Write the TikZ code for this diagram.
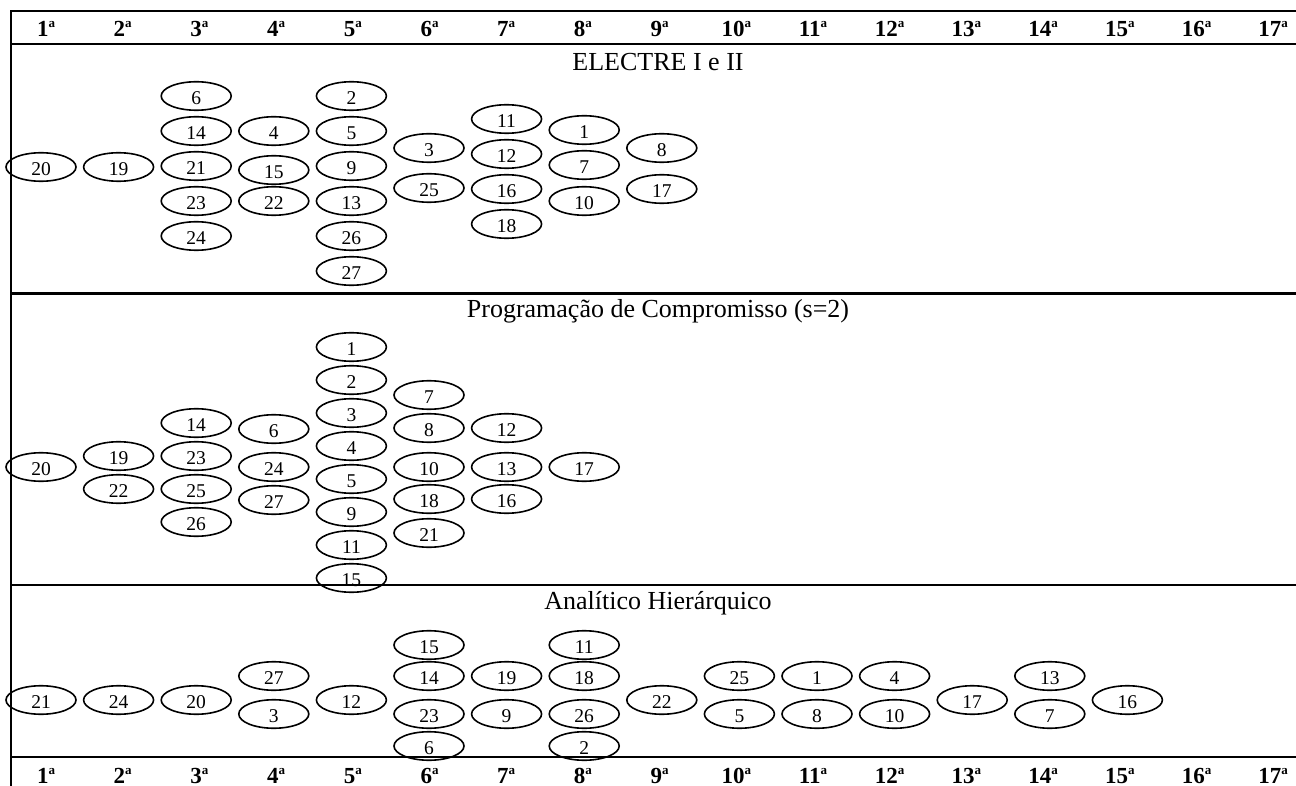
\documentclass[tikz,border=0pt]{standalone}
\usepackage{fontspec}
\setmainfont{Liberation Serif}
\usetikzlibrary{shapes.geometric}

\tikzset{
  rank/.style={ellipse, draw, line width=1.6pt, minimum width=70pt,
    minimum height=28.5pt, inner sep=0pt,
    font=\fontsize{19.5}{19.5}\selectfont, text height=17.5pt, text depth=0pt},
  rule/.style={line width=2.4pt},
  colhead/.style={anchor=base, inner sep=0pt,
    font=\fontsize{23}{23}\selectfont\bfseries},
  method/.style={anchor=base, inner sep=0pt, font=\fontsize{26}{26}\selectfont}
}

% ordinal position label: number with raised "a"
\newcommand\ordn[1]{#1\raisebox{9pt}{\fontsize{13}{13}\selectfont a}}
% one ranked alternative: name, rank column, vertical position, label
\newcommand\rk[4]{\node[rank] (#1) at ({41+77.6*(#2-1)},#3) {#4};}

\begin{document}
\begin{tikzpicture}[x=1pt,y=-1pt]
\useasboundingbox (0,0) rectangle (1296,786);

% table frame
\draw[rule] (1296,11) -- (11,11) -- (11,786);
\draw[rule] (11,44) -- (1296,44);
\draw[rule] (11,293.5) -- (1296,293.5);
\draw[rule] (11,585) -- (1296,585);
\draw[rule] (11,757) -- (1296,757);

% rank positions, top and bottom rows
\foreach \i in {1,...,17}{
  \node[colhead] (top\i) at ({46+76.7*(\i-1)},37) {\ordn{\i}};
  \node[colhead] (bot\i) at ({46+76.7*(\i-1)},783) {\ordn{\i}};
}

% ---------------- ELECTRE I e II ----------------
\node[method] (electre) at (658,70.5) {ELECTRE I e II};
\rk{e20}{1}{167}{20}
\rk{e19}{2}{167}{19}
\rk{e6}{3}{96}{6}
\rk{e14}{3}{131}{14}
\rk{e21}{3}{166}{21}
\rk{e23}{3}{201}{23}
\rk{e24}{3}{236}{24}
\rk{e4}{4}{131}{4}
\rk{e15}{4}{170}{15}
\rk{e22}{4}{201}{22}
\rk{e2}{5}{96}{2}
\rk{e5}{5}{131}{5}
\rk{e9}{5}{166}{9}
\rk{e13}{5}{201}{13}
\rk{e26}{5}{236}{26}
\rk{e27}{5}{271}{27}
\rk{e3}{6}{148}{3}
\rk{e25}{6}{188}{25}
\rk{e11}{7}{119}{11}
\rk{e12}{7}{154}{12}
\rk{e16}{7}{189}{16}
\rk{e18}{7}{224}{18}
\rk{e1}{8}{130}{1}
\rk{e7}{8}{165}{7}
\rk{e10}{8}{201}{10}
\rk{e8}{9}{148}{8}
\rk{e17}{9}{189}{17}

% ---------------- Programacao de Compromisso ----------------
\node[method] (compromisso) at (658,318) {Programação de Compromisso (s=2)};
\rk{p20}{1}{467}{20}
\rk{p19}{2}{456}{19}
\rk{p22}{2}{489}{22}
\rk{p14}{3}{423}{14}
\rk{p23}{3}{456}{23}
\rk{p25}{3}{489}{25}
\rk{p26}{3}{522}{26}
\rk{p6}{4}{429}{6}
\rk{p24}{4}{467}{24}
\rk{p27}{4}{500}{27}
\rk{p1}{5}{347}{1}
\rk{p2}{5}{380}{2}
\rk{p3}{5}{413}{3}
\rk{p4}{5}{446}{4}
\rk{p5}{5}{479}{5}
\rk{p9}{5}{512}{9}
\rk{p11}{5}{545}{11}
\rk{p15}{5}{578}{15}
\rk{p7}{6}{395}{7}
\rk{p8}{6}{428}{8}
\rk{p10}{6}{467}{10}
\rk{p18}{6}{499}{18}
\rk{p21}{6}{533}{21}
\rk{p12}{7}{428}{12}
\rk{p13}{7}{467}{13}
\rk{p16}{7}{499}{16}
\rk{p17}{8}{467}{17}

% ---------------- Analitico Hierarquico ----------------
\node[method] (ahp) at (658,609) {Analítico Hierárquico};
\rk{h21}{1}{700}{21}
\rk{h24}{2}{700}{24}
\rk{h20}{3}{700}{20}
\rk{h27}{4}{676}{27}
\rk{h3}{4}{714}{3}
\rk{h12}{5}{700}{12}
\rk{h15}{6}{645}{15}
\rk{h14}{6}{676}{14}
\rk{h23}{6}{714}{23}
\rk{h6}{6}{746}{6}
\rk{h19}{7}{676}{19}
\rk{h9}{7}{714}{9}
\rk{h11}{8}{645}{11}
\rk{h18}{8}{676}{18}
\rk{h26}{8}{714}{26}
\rk{h2}{8}{746}{2}
\rk{h22}{9}{700}{22}
\rk{h25}{10}{676}{25}
\rk{h5}{10}{714}{5}
\rk{h1}{11}{676}{1}
\rk{h8}{11}{714}{8}
\rk{h4}{12}{676}{4}
\rk{h10}{12}{714}{10}
\rk{h17}{13}{700}{17}
\rk{h13}{14}{676}{13}
\rk{h7}{14}{714}{7}
\rk{h16}{15}{700}{16}
\end{tikzpicture}
\end{document}
